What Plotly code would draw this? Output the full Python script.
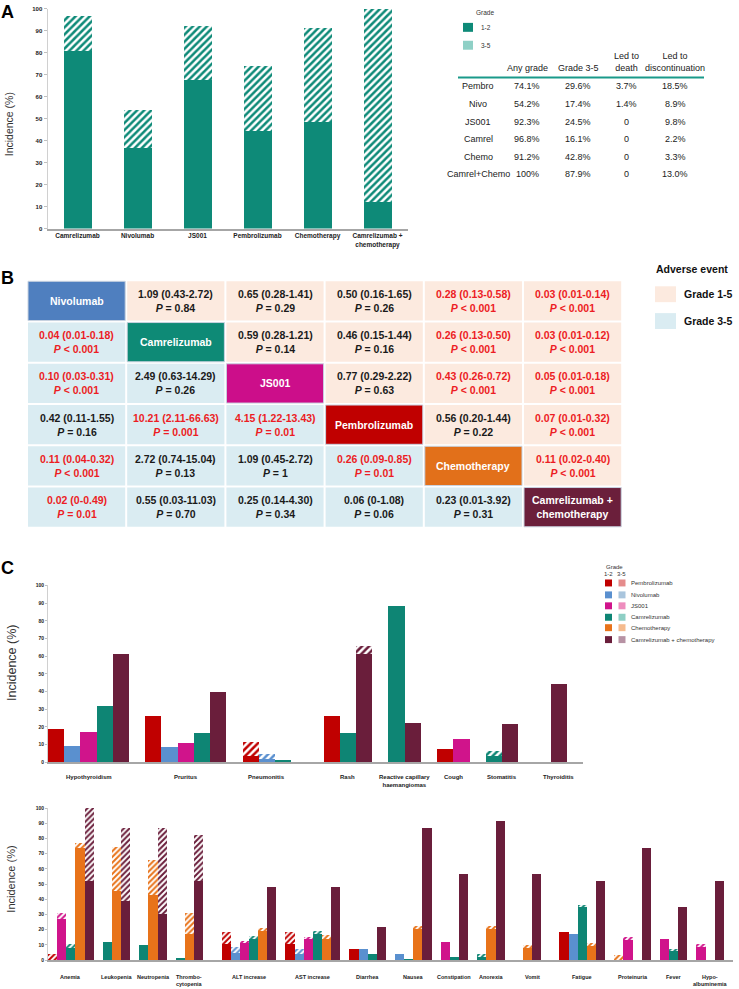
import plotly.graph_objects as go

W, H = 739, 989
FONT = "Arial, 'Liberation Sans', Helvetica, sans-serif"

# ---------------- Panel A data ----------------
a_agents = ["Camrelizumab", "Nivolumab", "JS001", "Pembrolizumab", "Chemotherapy",
            "Camrelizumab +<br>chemotherapy"]
a_grade12 = [80.7, 36.8, 67.8, 44.5, 48.4, 12.1]
a_grade35 = [16.1, 17.4, 24.5, 29.6, 42.8, 87.9]
a_yticks = [0, 10, 20, 30, 40, 50, 60, 70, 80, 90, 100]

table_header = ["Any grade", "Grade 3-5", "Led to<br>death", "Led to<br>discontinuation"]
table_rows = ["Pembro", "Nivo", "JS001", "Camrel", "Chemo", "Camrel+Chemo"]
table_any = ["74.1%", "54.2%", "92.3%", "96.8%", "91.2%", "100%"]
table_g35 = ["29.6%", "17.4%", "24.5%", "16.1%", "42.8%", "87.9%"]
table_death = ["3.7%", "1.4%", "0", "0", "0", "0"]
table_disc = ["18.5%", "8.9%", "9.8%", "2.2%", "3.3%", "13.0%"]

# ---------------- Panel B data ----------------
b_agents = ["Nivolumab", "Camrelizumab", "JS001", "Pembrolizumab", "Chemotherapy",
            "Camrelizumab +<br>chemotherapy"]
b_agent_colors = ["#4F7FBF", "#0E8A76", "#CC0E8A", "#C00000", "#E2701A", "#6B1F3B"]
b_est = [
    [None, "1.09 (0.43-2.72)", "0.65 (0.28-1.41)", "0.50 (0.16-1.65)", "0.28 (0.13-0.58)", "0.03 (0.01-0.14)"],
    ["0.04 (0.01-0.18)", None, "0.59 (0.28-1.21)", "0.46 (0.15-1.44)", "0.26 (0.13-0.50)", "0.03 (0.01-0.12)"],
    ["0.10 (0.03-0.31)", "2.49 (0.63-14.29)", None, "0.77 (0.29-2.22)", "0.43 (0.26-0.72)", "0.05 (0.01-0.18)"],
    ["0.42 (0.11-1.55)", "10.21 (2.11-66.63)", "4.15 (1.22-13.43)", None, "0.56 (0.20-1.44)", "0.07 (0.01-0.32)"],
    ["0.11 (0.04-0.32)", "2.72 (0.74-15.04)", "1.09 (0.45-2.72)", "0.26 (0.09-0.85)", None, "0.11 (0.02-0.40)"],
    ["0.02 (0-0.49)", "0.55 (0.03-11.03)", "0.25 (0.14-4.30)", "0.06 (0-1.08)", "0.23 (0.01-3.92)", None],
]
b_p = [
    [None, "= 0.84", "= 0.29", "= 0.26", "< 0.001", "< 0.001"],
    ["< 0.001", None, "= 0.14", "= 0.16", "< 0.001", "< 0.001"],
    ["< 0.001", "= 0.26", None, "= 0.63", "< 0.001", "< 0.001"],
    ["= 0.16", "= 0.001", "= 0.01", None, "= 0.22", "< 0.001"],
    ["< 0.001", "= 0.13", "= 1", "= 0.01", None, "< 0.001"],
    ["= 0.01", "= 0.70", "= 0.34", "= 0.06", "= 0.31", None],
]
b_legend = ["Grade 1-5", "Grade 3-5"]

# ---------------- Panel C data ----------------
ser_keys = ["Pembro", "Nivo", "JS001", "Camrel", "Chemo", "Combo"]
ser_names = ["Pembrolizumab", "Nivolumab", "JS001", "Camrelizumab", "Chemotherapy",
             "Camrelizumab + chemotherapy"]
ser_colors = ["#C00000", "#5A90CF", "#D0148B", "#0E8574", "#E8731A", "#6A1E3B"]
ser_light = ["#E58C8C", "#A9C5DD", "#EE8DBE", "#8ECFC5", "#F5BB8E", "#B792A4"]

top_categories = ["Hypothyroidism", "Pruritus", "Pneumonitis", "Rash",
                  "Reactive capillary<br>haemangiomas", "Cough", "Stomatitis", "Thyroiditis"]
top_series = [
    ["Pembro", "Nivo", "JS001", "Camrel", "Combo"],
    ["Pembro", "Nivo", "JS001", "Camrel", "Combo"],
    ["Pembro", "Nivo", "Camrel", None],
    ["Pembro", "Camrel", "Combo"],
    ["Camrel", "Combo"],
    ["Pembro", "JS001"],
    ["Camrel", "Combo", None],
    ["Combo"],
]
top_grade12 = [
    [18.5, 8.8, 16.9, 31.8, 61.2],
    [26.0, 8.4, 10.7, 16.3, 39.3],
    [3.6, 1.5, 1.0, 0],
    [26.0, 16.3, 61.2],
    [88.4, 22.1],
    [7.5, 12.7],
    [3.6, 21.7, 0],
    [43.8],
]
top_grade35 = [
    [0, 0, 0, 0, 0],
    [0, 0, 0, 0, 0],
    [7.6, 3.0, 0, 0],
    [0, 0, 4.3],
    [0, 0],
    [0, 0],
    [2.4, 0, 0],
    [0],
]

bot_categories = ["Anemia", "Leukopenia", "Neutropenia", "Thrombo-<br>cytopenia", "ALT increase",
                  "AST increase", "Diarrhea", "Nausea", "Constipation", "Anorexia", "Vomit",
                  "Fatigue", "Proteinuria", "Fever", "Hypo-<br>albuminemia"]
bot_series = [
    ["Pembro", "JS001", "Camrel", "Chemo", "Combo"],
    ["Camrel", "Chemo", "Combo"],
    ["Camrel", "Chemo", "Combo"],
    ["Camrel", "Chemo", "Combo", None],
    ["Pembro", "Nivo", "JS001", "Camrel", "Chemo", "Combo"],
    ["Pembro", "Nivo", "JS001", "Camrel", "Chemo", "Combo"],
    ["Pembro", "Nivo", "Camrel", "Combo"],
    ["Nivo", "Camrel", "Chemo", "Combo"],
    ["JS001", "Camrel", "Combo"],
    ["Camrel", "Chemo", "Combo", None],
    ["Chemo", "Combo", None],
    ["Pembro", "Nivo", "Camrel", "Chemo", "Combo"],
    ["Chemo", "JS001", None, "Combo"],
    ["JS001", "Camrel", "Combo"],
    ["JS001", None, "Combo"],
]
bot_grade12 = [
    [0, 27.2, 8.0, 73.5, 52.0],
    [12.0, 45.4, 38.9],
    [9.6, 43.0, 30.2],
    [1.1, 17.4, 52.0, 0],
    [10.9, 4.8, 11.5, 13.6, 18.9, 47.8],
    [10.9, 4.3, 14.5, 16.9, 14.1, 47.8],
    [7.2, 7.0, 4.1, 21.5],
    [4.1, 0.9, 20.2, 87.0],
    [12.0, 2.0, 56.5],
    [2.2, 20.2, 91.3, 0],
    [8.0, 56.5, 0],
    [18.5, 17.2, 34.8, 9.3, 52.2],
    [0, 13.3, 0, 73.9],
    [13.9, 5.7, 34.8],
    [8.9, 0, 52.2],
]
bot_grade35 = [
    [3.7, 3.7, 2.9, 3.7, 48.0],
    [0, 28.9, 47.8],
    [0, 23.1, 56.5],
    [0, 13.7, 30.4, 0],
    [7.6, 3.9, 0.6, 2.5, 2.0, 0],
    [7.6, 2.9, 0.6, 2.5, 2.2, 0],
    [0, 0, 0, 0],
    [0, 0, 2.0, 0],
    [0, 0, 0],
    [1.5, 2.0, 0, 0],
    [1.8, 0, 0],
    [0, 0, 1.7, 1.8, 0],
    [3.3, 1.7, 0, 0],
    [0, 1.5, 0],
    [1.5, 0, 0],
]
c_yticks = [0, 10, 20, 30, 40, 50, 60, 70, 80, 90, 100]


# ---------------- helpers ----------------
def X(p):
    return p / W


def Y(p):
    return 1 - p / H


fig = go.Figure()
annotations = []
shapes = []


def ann(text, x, y, size, color="#222222", bold=False, xanchor="center", yanchor="middle",
        angle=0, xref="paper", yref="paper"):
    annotations.append(dict(
        text=text, x=x, y=y, xref=xref, yref=yref, showarrow=False,
        xanchor=xanchor, yanchor=yanchor, textangle=angle,
        font=dict(family=FONT, size=size, color=color, weight="bold" if bold else "normal"),
        borderpad=0))


def rect(x0, y0, x1, y1, fill, line_color=None, lw=0):
    shapes.append(dict(type="rect", xref="paper", yref="paper",
                       x0=X(x0), x1=X(x1), y0=Y(y1), y1=Y(y0),
                       fillcolor=fill, line=dict(color=line_color or fill, width=lw),
                       layer="above"))


# ---------------- Panel A ----------------
teal = "#0E8A78"
teal_light = "#8FD0C6"
fig.add_bar(x=a_agents, y=a_grade12, xaxis="x", yaxis="y", width=0.48,
            marker=dict(color=teal, line=dict(width=0)), showlegend=False, hoverinfo="skip")
fig.add_bar(x=a_agents, y=a_grade35, base=a_grade12, xaxis="x", yaxis="y", width=0.48,
            marker=dict(color=teal, line=dict(width=0),
                        pattern=dict(shape="/", fgcolor=teal, bgcolor="white", size=5,
                                     solidity=0.5, fillmode="replace")),
            showlegend=False, hoverinfo="skip")

ann("A", 0, Y(9), 18, "#000", bold=True, xanchor="left")
ann("Incidence (%)", 9 / W, Y(122), 10.5, "#333", angle=-90)

# legend A
ann("Grade", X(485), Y(10), 6.5, "#333")
rect(463, 20, 473, 29, teal)
rect(463, 38, 473, 47, teal_light)
ann("1-2", X(480), Y(25), 6.5, "#333", xanchor="left")
ann("3-5", X(480), Y(43), 6.5, "#333", xanchor="left")

# table A
col_x = [527, 578, 626, 675]
for cx, h in zip(col_x, table_header):
    ann(h, X(cx), Y(71), 9, "#222", yanchor="bottom")
shapes.append(dict(type="line", xref="paper", yref="paper", x0=X(458), x1=X(704),
                   y0=Y(75), y1=Y(75), line=dict(color="#1A9A8A", width=2)))
row_y0, row_dy = 84, 17.7
for i, r in enumerate(table_rows):
    yy = Y(row_y0 + i * row_dy)
    ann(r, X(478), yy, 9, "#222")
    for cx, col in zip(col_x, [table_any, table_g35, table_death, table_disc]):
        ann(col[i], X(cx), yy, 9, "#222")

# ---------------- Panel B ----------------
ann("B", 0, Y(277), 18, "#000", bold=True, xanchor="left")
peach = "#FCEADF"
lblue = "#DAECF2"
red = "#EC1C24"
bx0, by0, pitch_x, pitch_y, gap = 28, 280, 99.2, 41.5, 2.0
for i in range(6):
    for j in range(6):
        x0 = bx0 + j * pitch_x
        y0 = by0 + i * pitch_y
        x1 = x0 + pitch_x - gap
        y1 = y0 + pitch_y - gap
        cx, cy = X((x0 + x1) / 2), Y((y0 + y1) / 2)
        if i == j:
            rect(x0, y0, x1, y1, b_agent_colors[i], "#C9D3E0", 1)
            ann(b_agents[i], cx, cy, 10.5, "white", bold=True)
        else:
            rect(x0, y0, x1, y1, peach if j > i else lblue)
            p = b_p[i][j]
            sig = p.startswith("<") or float(p.split()[-1]) < 0.05
            col = red if sig else "#1A1A1A"
            ann(b_est[i][j] + "<br><i>P</i> " + p, cx, cy, 10.5, col, bold=True)

ann("Adverse event", X(655), Y(268), 10.5, "#111", bold=True, xanchor="left")
rect(655, 285, 676, 301, peach)
rect(655, 312, 676, 328, lblue)
ann(b_legend[0], X(683), Y(293), 10.5, "#111", bold=True, xanchor="left")
ann(b_legend[1], X(683), Y(320), 10.5, "#111", bold=True, xanchor="left")


# ---------------- Panel C ----------------
def slot_layout(series_lists):
    pos = 0
    slots, centers = [], []
    for cat in series_lists:
        idx = []
        for _ in cat:
            idx.append(pos)
            pos += 1
        pos += 1
        slots.append(idx)
        real = [k for k, s in zip(idx, cat) if s is not None]
        centers.append((min(real) + max(real)) / 2)
    return slots, centers, pos


def add_c_chart(series_lists, g12, g35, xa, ya, psize):
    slots, centers, n = slot_layout(series_lists)
    for key, color in zip(ser_keys, ser_colors):
        xs, y12, y35 = [], [], []
        for ci, cat in enumerate(series_lists):
            for k, s in enumerate(cat):
                if s == key:
                    xs.append(slots[ci][k])
                    y12.append(g12[ci][k])
                    y35.append(g35[ci][k])
        if not xs:
            continue
        fig.add_bar(x=xs, y=y12, xaxis=xa, yaxis=ya, width=1,
                    marker=dict(color=color, line=dict(width=0)),
                    showlegend=False, hoverinfo="skip")
        fig.add_bar(x=xs, y=y35, base=y12, xaxis=xa, yaxis=ya, width=1,
                    marker=dict(color=color, line=dict(width=0),
                                pattern=dict(shape="/", fgcolor=color, bgcolor="white",
                                             size=psize, solidity=0.5, fillmode="replace")),
                    showlegend=False, hoverinfo="skip")
    return centers, n


top_centers, top_n = add_c_chart(top_series, top_grade12, top_grade35, "x2", "y2", 5)
bot_centers, bot_n = add_c_chart(bot_series, bot_grade12, bot_grade35, "x3", "y3", 4)

for c, name in zip(top_centers, top_categories):
    ann(name, c, Y(775), 6, "#222", bold=True, xref="x2", yanchor="top")
for c, name in zip(bot_centers, bot_categories):
    ann(name, c, Y(976), 5.5, "#222", bold=True, xref="x3", yanchor="top")

ann("C", 0, Y(568), 18, "#000", bold=True, xanchor="left")
ann("Incidence (%)", 12 / W, Y(664), 12.5, "#333", angle=-90)
ann("Incidence (%)", 11 / W, Y(882), 11, "#333", angle=-90)

# legend C
ann("Grade", X(614.5), Y(567), 6, "#333")
ann("1-2", X(608), Y(574), 6, "#333")
ann("3-5", X(621.5), Y(574), 6, "#333")
leg_y = [583.5, 595.5, 606.5, 618, 628.5, 640.5]
for yy, name, c1, c2 in zip(leg_y, ser_names, ser_colors, ser_light):
    rect(605, yy - 3.5, 612, yy + 3.5, c1)
    rect(618.5, yy - 3.5, 625.5, yy + 3.5, c2)
    ann(name, X(630), Y(yy), 6, "#333", xanchor="left")

# ---------------- axes ----------------
tickfont_a = dict(family=FONT, size=6, color="#222", weight="bold")
fig.update_layout(
    width=W, height=H, margin=dict(l=0, r=0, t=0, b=0),
    paper_bgcolor="white", plot_bgcolor="white",
    barmode="overlay", bargap=0,
    font=dict(family=FONT),
    xaxis=dict(domain=[X(47.5), X(407.5)], anchor="y", type="category",
               range=[-0.5, 5.5], showline=True, linecolor="#A6A6A6", linewidth=1.5,
               ticks="", showgrid=False, zeroline=False,
               tickfont=dict(family=FONT, size=6.5, color="#222", weight="bold")),
    yaxis=dict(domain=[Y(227), Y(6)], anchor="x", range=[0, 100], tickvals=a_yticks,
               showline=True, linecolor="#D0D0D0", linewidth=1, ticks="outside",
               ticklen=3, tickcolor="#BFBFBF", showgrid=False, zeroline=False,
               tickfont=tickfont_a),
    xaxis2=dict(domain=[X(48), X(583)], anchor="y2", range=[-0.5, top_n - 0.5],
                showline=True, linecolor="#A6A6A6", linewidth=2, showticklabels=False,
                ticks="", showgrid=False, zeroline=False),
    yaxis2=dict(domain=[Y(764), Y(586)], anchor="x2", range=[0, 100], tickvals=c_yticks,
                showline=True, linecolor="#D0D0D0", linewidth=1, ticks="outside",
                ticklen=2, tickcolor="#BFBFBF", showgrid=False, zeroline=False,
                tickfont=dict(family=FONT, size=5, color="#222", weight="bold")),
    xaxis3=dict(domain=[X(48), X(733)], anchor="y3", range=[-0.5, bot_n - 0.5],
                showline=True, linecolor="#A6A6A6", linewidth=1.5, showticklabels=False,
                ticks="", showgrid=False, zeroline=False),
    yaxis3=dict(domain=[Y(963), Y(810)], anchor="x3", range=[0, 100], tickvals=c_yticks,
                showline=True, linecolor="#D0D0D0", linewidth=1, ticks="outside",
                ticklen=2, tickcolor="#BFBFBF", showgrid=False, zeroline=False,
                tickfont=dict(family=FONT, size=5, color="#222", weight="bold")),
    annotations=annotations,
    shapes=shapes,
)

fig.write_html("out.html", config={"displayModeBar": False},
               post_script="document.body.style.margin='0';document.body.style.overflow='hidden';")
